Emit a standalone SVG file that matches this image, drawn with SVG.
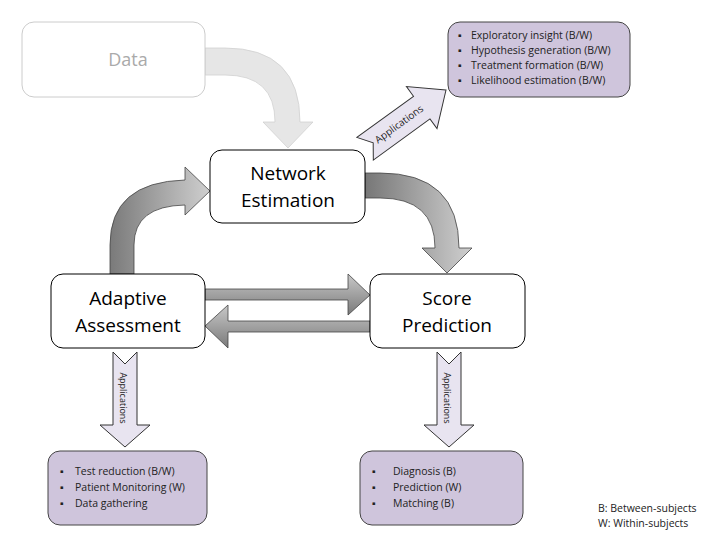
<svg xmlns="http://www.w3.org/2000/svg" width="720" height="540" viewBox="0 0 720 540">
<style>
.node{fill:#fff;stroke:#000;stroke-width:1}
.big{font-family:"Open Sans","Liberation Sans",sans-serif;font-size:19px;fill:#000;text-anchor:middle}
.app{fill:#cfc5dc;stroke:#444;stroke-width:1}
.li{font-family:"Open Sans","Liberation Sans",sans-serif;font-size:10.5px;fill:#222}
.la{fill:#e8e4f0;stroke:#333;stroke-width:1}
.al{font-family:"Open Sans","Liberation Sans",sans-serif;font-size:9px;fill:#222;text-anchor:middle}
.ga{stroke:#444;stroke-width:0.8}
</style>
<defs>
<linearGradient id="gh" x1="0" y1="0" x2="0" y2="1"><stop offset="0" stop-color="#c8c8c8"/><stop offset="1" stop-color="#7a7a7a"/></linearGradient>
<linearGradient id="gl" x1="0" y1="0" x2="1" y2="0"><stop offset="0" stop-color="#7a7a7a"/><stop offset="1" stop-color="#cfcfcf"/></linearGradient>
<linearGradient id="gr" x1="0" y1="0" x2="1" y2="0"><stop offset="0" stop-color="#777"/><stop offset="1" stop-color="#cfcfcf"/></linearGradient>
</defs>
<g id="connectors">
<path d="M205,48 L225,48 Q300,48 300,122 L313,122 L288,148 L263,122 L275,122 Q275,75 225,75 L205,75 Z" fill="#e6e6e6" stroke="#d0d0d0" stroke-width="0.8"/>
<path d="M110,274 L110,245 Q110,182 185,180 L185,167 L210,191 L185,215 L185,205 Q134,206 134,245 L134,274 Z" fill="url(#gl)" class="ga"/>
<path d="M365,173 L380,173 Q459,173 459,248 L472,248 L447,273 L422,248 L435,248 Q435,198 380,198 L365,198 Z" fill="url(#gr)" class="ga"/>
<path d="M205,289 L348,289 L348,274 L370,295 L348,315 L348,300 L205,300 Z" fill="url(#gh)" class="ga"/>
<path d="M370,321 L228,321 L228,305 L205,326 L228,348 L228,332 L370,332 Z" fill="url(#gh)" class="ga"/>
<g transform="translate(446,90) rotate(-36)">
<path d="M0,0 L-30,-26 L-30,-14 L-100,-14 L-90,0 L-100,14 L-30,14 L-30,26 Z" class="la"/>
<text x="-58" y="3.5" class="al" style="font-size:10px">Applications</text>
</g>
<path d="M113,352 L125,364 L137,352 L137,425 L150,425 L125,447 L100,425 L113,425 Z" class="la"/>
<text class="al" transform="translate(120,398) rotate(90)">Applications</text>
<path d="M437,352 L449,364 L461,352 L461,425 L474,425 L449,447 L424,425 L437,425 Z" class="la"/>
<text class="al" transform="translate(444,398) rotate(90)">Applications</text>
</g>
<g id="data"><rect x="22" y="22" width="183" height="75" rx="12" fill="#fff" stroke="#ccc"/><text x="128" y="66" class="big" style="fill:#aaa;font-size:18px">Data</text></g>
<g id="apps-top"><rect x="448" y="22" width="182" height="75" rx="12" class="app"/>
<text class="li"><tspan x="458" y="39">▪</tspan><tspan x="471" y="39">Exploratory insight (B/W)</tspan><tspan x="458" y="54">▪</tspan><tspan x="471" y="54">Hypothesis generation (B/W)</tspan><tspan x="458" y="69">▪</tspan><tspan x="471" y="69">Treatment formation (B/W)</tspan><tspan x="458" y="84">▪</tspan><tspan x="471" y="84">Likelihood estimation (B/W)</tspan></text></g>
<g id="network"><rect x="210" y="150" width="155" height="73" rx="12" class="node"/><text class="big"><tspan x="288" y="180">Network</tspan><tspan x="288" y="207">Estimation</tspan></text></g>
<g id="adaptive"><rect x="51" y="274" width="154" height="74" rx="12" class="node"/><text class="big"><tspan x="128" y="305">Adaptive</tspan><tspan x="128" y="332">Assessment</tspan></text></g>
<g id="score"><rect x="370" y="274" width="155" height="74" rx="12" class="node"/><text class="big"><tspan x="447" y="305">Score</tspan><tspan x="447" y="332">Prediction</tspan></text></g>
<g id="apps-left"><rect x="48" y="451" width="159" height="74" rx="12" class="app"/>
<text class="li"><tspan x="60" y="475">▪</tspan><tspan x="75" y="475">Test reduction (B/W)</tspan><tspan x="60" y="491">▪</tspan><tspan x="75" y="491">Patient Monitoring  (W)</tspan><tspan x="60" y="507">▪</tspan><tspan x="75" y="507">Data gathering</tspan></text></g>
<g id="apps-right"><rect x="360" y="451" width="163" height="74" rx="12" class="app"/>
<text class="li"><tspan x="372" y="475">▪</tspan><tspan x="393" y="475">Diagnosis (B)</tspan><tspan x="372" y="491">▪</tspan><tspan x="393" y="491">Prediction  (W)</tspan><tspan x="372" y="507">▪</tspan><tspan x="393" y="507">Matching (B)</tspan></text></g>
<g id="legend"><text class="li"><tspan x="598" y="512">B: Between-subjects</tspan><tspan x="598" y="527">W: Within-subjects</tspan></text></g>
</svg>
